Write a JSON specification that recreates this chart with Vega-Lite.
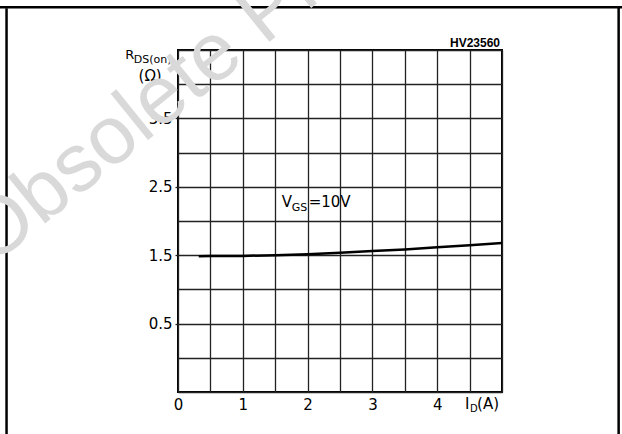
{
  "$schema": "https://vega.github.io/schema/vega-lite/v6.json",
  "width": 324,
  "height": 342,
  "autosize": "none",
  "padding": {"left": 178, "top": 50, "right": 120, "bottom": 42},
  "background": "white",
  "config": {
    "view": {"stroke": "black", "strokeWidth": 2},
    "text": {"font": "DejaVu Sans", "color": "black"}
  },
  "resolve": {"axis": {"x": "independent", "y": "independent"}},
  "datasets": {
    "curve": [
      {"id": 0.32, "r": 1.485},
      {"id": 0.5, "r": 1.487},
      {"id": 1.0, "r": 1.49},
      {"id": 1.5, "r": 1.5},
      {"id": 2.0, "r": 1.515},
      {"id": 2.5, "r": 1.535},
      {"id": 3.0, "r": 1.56},
      {"id": 3.5, "r": 1.585},
      {"id": 4.0, "r": 1.615},
      {"id": 4.5, "r": 1.645},
      {"id": 5.0, "r": 1.68}
    ]
  },
  "layer": [
    {
      "data": {"values": [{}]},
      "mark": {"type": "text", "text": "V", "fontSize": 15, "align": "left", "baseline": "alphabetic"},
      "encoding": {
        "x": {
          "datum": 1.6, "type": "quantitative",
          "scale": {"domain": [0, 5], "nice": false, "zero": false},
          "axis": {
            "orient": "top", "title": null,
            "values": [0, 0.5, 1, 1.5, 2, 2.5, 3, 3.5, 4, 4.5, 5],
            "domain": false, "ticks": false, "labels": false,
            "grid": true, "gridColor": "#222", "gridWidth": 1.3, "gridOpacity": 1
          }
        },
        "y": {
          "datum": 2.205, "type": "quantitative",
          "scale": {"domain": [-0.5, 4.5], "nice": false, "zero": false},
          "axis": {
            "orient": "right", "title": null,
            "values": [-0.5, 0, 0.5, 1, 1.5, 2, 2.5, 3, 3.5, 4, 4.5],
            "domain": false, "ticks": false, "labels": false,
            "grid": true, "gridColor": "#222", "gridWidth": 1.3, "gridOpacity": 1
          }
        }
      }
    },
    {
      "data": {"name": "curve"},
      "mark": {"type": "line", "color": "black", "strokeWidth": 2.5},
      "encoding": {
        "x": {
          "field": "id", "type": "quantitative",
          "axis": {
            "orient": "bottom", "title": null,
            "values": [0, 1, 2, 3, 4],
            "domain": false, "grid": false, "ticks": false,
            "format": "d",
            "labelFont": "DejaVu Sans", "labelFontSize": 15, "labelColor": "black",
            "labelPadding": 5, "labelFlush": false, "labelOverlap": false
          }
        },
        "y": {
          "field": "r", "type": "quantitative",
          "axis": {
            "orient": "left", "title": null,
            "values": [0.5, 1.5, 2.5, 3.5],
            "domain": false, "grid": false,
            "ticks": true, "tickSize": 3, "tickWidth": 1.3, "tickColor": "#222",
            "format": ".1f",
            "labelFont": "DejaVu Sans", "labelFontSize": 15, "labelColor": "black",
            "labelPadding": 3, "labelOverlap": false, "labelFlush": false
          }
        }
      }
    },
    {
      "data": {"values": [{}]},
      "mark": {"type": "text", "text": "GS", "fontSize": 11, "align": "left", "baseline": "alphabetic", "dx": 10, "dy": 4},
      "encoding": {"x": {"datum": 1.6, "type": "quantitative", "axis": null}, "y": {"datum": 2.205, "type": "quantitative", "axis": null}}
    },
    {
      "data": {"values": [{}]},
      "mark": {"type": "text", "text": "=10V", "fontSize": 15, "align": "left", "baseline": "alphabetic", "dx": 27},
      "encoding": {"x": {"datum": 1.6, "type": "quantitative", "axis": null}, "y": {"datum": 2.205, "type": "quantitative", "axis": null}}
    },
    {
      "data": {"values": [{}]},
      "mark": {"type": "text", "text": "R", "fontSize": 13, "align": "left", "baseline": "alphabetic"},
      "encoding": {"x": {"datum": -0.815, "type": "quantitative", "axis": null}, "y": {"datum": 4.366, "type": "quantitative", "axis": null}}
    },
    {
      "data": {"values": [{}]},
      "mark": {"type": "text", "text": "DS(on)", "fontSize": 11, "align": "left", "baseline": "alphabetic", "dx": 8.5, "dy": 4},
      "encoding": {"x": {"datum": -0.815, "type": "quantitative", "axis": null}, "y": {"datum": 4.366, "type": "quantitative", "axis": null}}
    },
    {
      "data": {"values": [{}]},
      "mark": {"type": "text", "text": "(Ω)", "fontSize": 15, "align": "center", "baseline": "alphabetic"},
      "encoding": {"x": {"datum": -0.43, "type": "quantitative", "axis": null}, "y": {"datum": 4.04, "type": "quantitative", "axis": null}}
    },
    {
      "data": {"values": [{}]},
      "mark": {"type": "text", "text": "I", "fontSize": 15, "align": "left", "baseline": "alphabetic"},
      "encoding": {"x": {"datum": 4.43, "type": "quantitative", "axis": null}, "y": {"datum": -0.744, "type": "quantitative", "axis": null}}
    },
    {
      "data": {"values": [{}]},
      "mark": {"type": "text", "text": "D", "fontSize": 10, "align": "left", "baseline": "alphabetic", "dx": 5, "dy": 3},
      "encoding": {"x": {"datum": 4.43, "type": "quantitative", "axis": null}, "y": {"datum": -0.744, "type": "quantitative", "axis": null}}
    },
    {
      "data": {"values": [{}]},
      "mark": {"type": "text", "text": "(A)", "fontSize": 15, "align": "left", "baseline": "alphabetic", "dx": 12},
      "encoding": {"x": {"datum": 4.43, "type": "quantitative", "axis": null}, "y": {"datum": -0.744, "type": "quantitative", "axis": null}}
    },
    {
      "data": {"values": [{}]},
      "mark": {"type": "text", "text": "HV23560", "font": "Liberation Sans", "fontWeight": "bold", "fontSize": 12, "align": "right", "baseline": "alphabetic"},
      "encoding": {"x": {"datum": 4.97, "type": "quantitative", "axis": null}, "y": {"datum": 4.541, "type": "quantitative", "axis": null}}
    },
    {
      "data": {"values": [{}]},
      "mark": {"type": "rule", "color": "black", "strokeWidth": 2.5},
      "encoding": {"x": {"datum": -2.75, "type": "quantitative", "axis": null}, "x2": {"datum": 6.9}, "y": {"datum": 5.125, "type": "quantitative", "axis": null}}
    },
    {
      "data": {"values": [{}]},
      "mark": {"type": "rule", "color": "black", "strokeWidth": 2.5},
      "encoding": {"x": {"datum": -2.646, "type": "quantitative", "axis": null}, "y": {"datum": 5.11, "type": "quantitative", "axis": null}, "y2": {"datum": -1.2}}
    },
    {
      "data": {"values": [{}]},
      "mark": {"type": "rule", "color": "black", "strokeWidth": 2.5},
      "encoding": {"x": {"datum": 6.8, "type": "quantitative", "axis": null}, "y": {"datum": 5.14, "type": "quantitative", "axis": null}, "y2": {"datum": -1.2}}
    },
    {
      "data": {"values": [{}]},
      "mark": {"type": "text", "text": "Obsolete Product(s)", "font": "Liberation Sans", "fontSize": 82, "angle": 321, "align": "left", "baseline": "alphabetic", "color": "#d9d9d9"},
      "encoding": {"x": {"datum": -2.88, "type": "quantitative", "axis": null}, "y": {"datum": 1.33, "type": "quantitative", "axis": null}}
    }
  ]
}
